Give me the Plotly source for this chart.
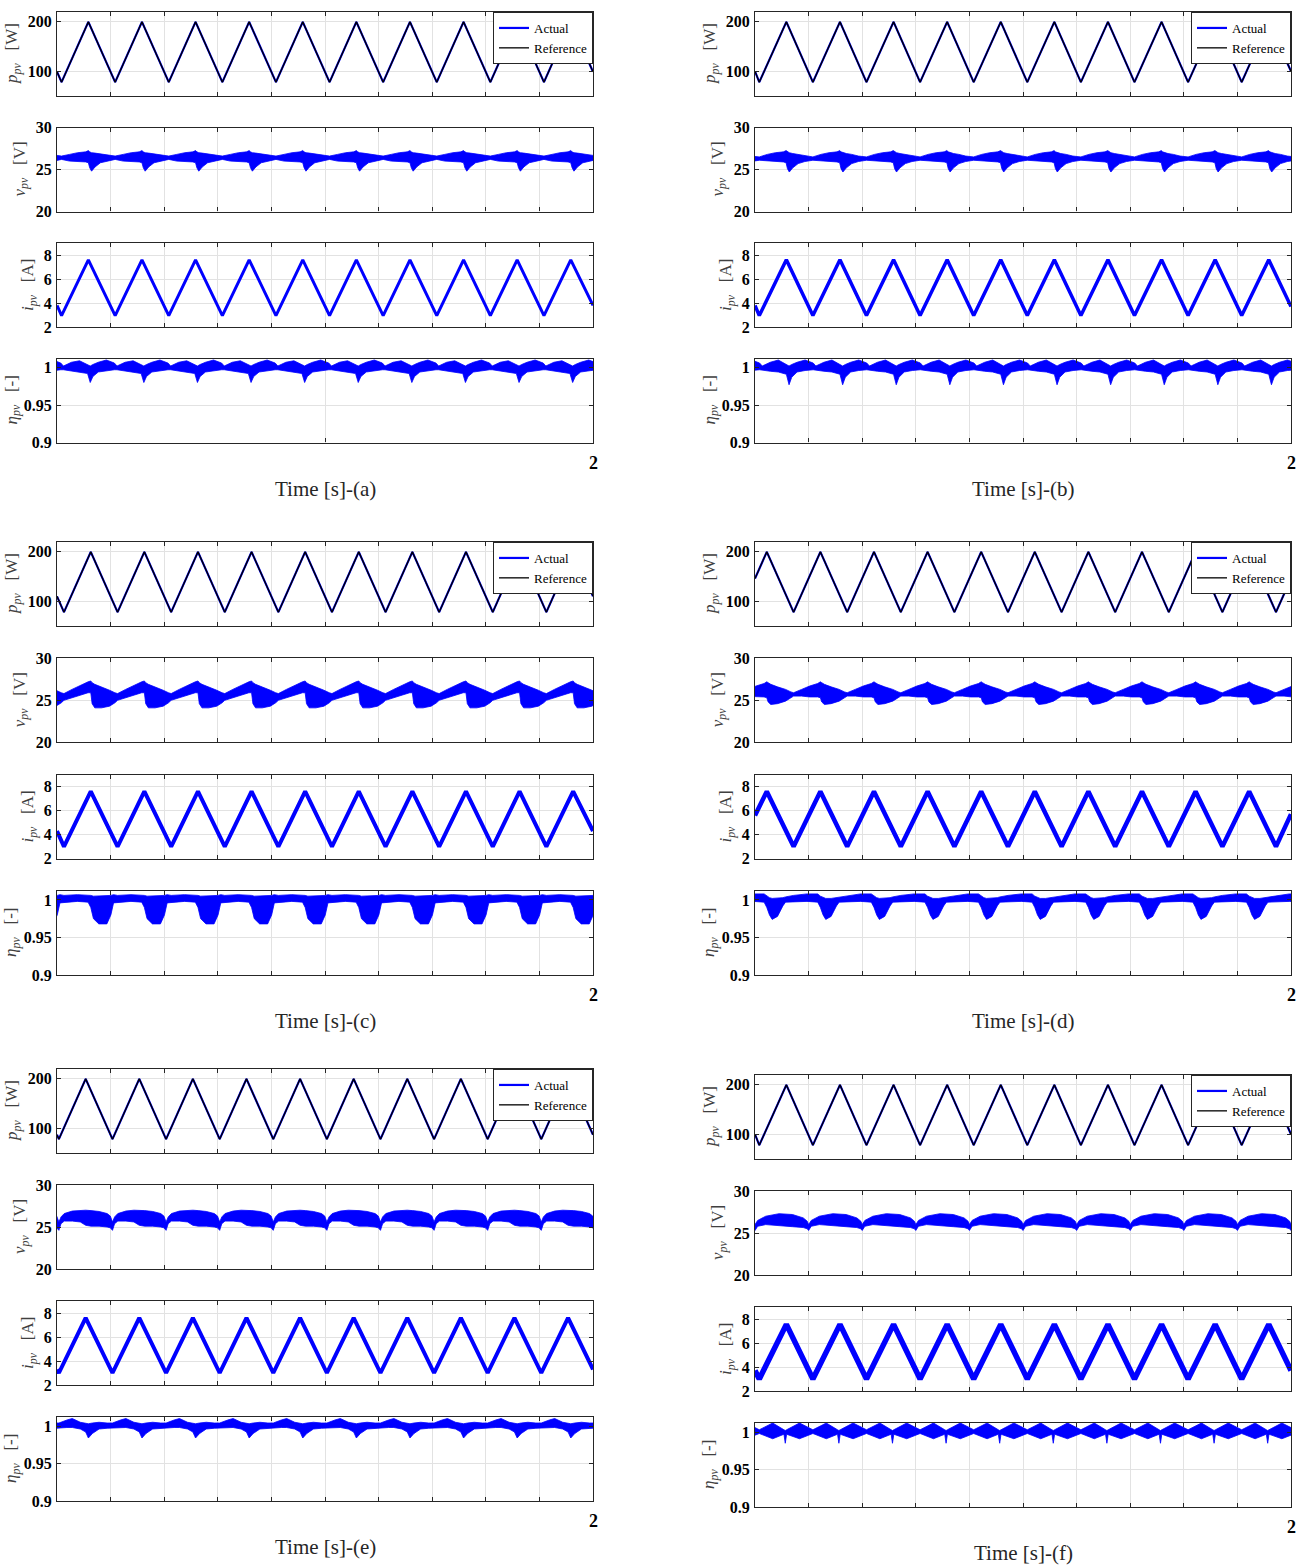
import plotly.graph_objects as go

W, H = 1303, 1568

# ---------------- data ----------------
X_TICKS = [0, 0.2, 0.4, 0.6, 0.8, 1.0, 1.2, 1.4, 1.6, 1.8, 2.0]

# vertex times of triangular power / current profiles [s]
T_A = [0, 0.017, 0.117, 0.217, 0.317, 0.417, 0.517, 0.617, 0.717, 0.817, 0.917,
       1.017, 1.117, 1.217, 1.317, 1.417, 1.517, 1.617, 1.717, 1.817, 1.917, 2.0]
T_B = [0, 0.016, 0.117, 0.216, 0.317, 0.416, 0.517, 0.616, 0.717, 0.816, 0.917,
       1.016, 1.117, 1.216, 1.317, 1.416, 1.517, 1.616, 1.717, 1.816, 1.917, 2.0]
T_C = [0, 0.026, 0.126, 0.226, 0.326, 0.426, 0.526, 0.626, 0.726, 0.826, 0.926,
       1.026, 1.126, 1.226, 1.326, 1.426, 1.526, 1.626, 1.726, 1.826, 1.926, 2.0]
T_D = [0, 0.044, 0.144, 0.244, 0.344, 0.444, 0.544, 0.644, 0.744, 0.844, 0.944,
       1.044, 1.144, 1.244, 1.344, 1.444, 1.544, 1.644, 1.744, 1.844, 1.944, 2.0]
T_E = [0, 0.007, 0.107, 0.207, 0.307, 0.407, 0.507, 0.607, 0.707, 0.807, 0.907,
       1.007, 1.107, 1.207, 1.307, 1.407, 1.507, 1.607, 1.707, 1.807, 1.907, 2.0]
T_F = [0, 0.016, 0.117, 0.216, 0.317, 0.416, 0.517, 0.616, 0.717, 0.816, 0.917,
       1.016, 1.117, 1.216, 1.317, 1.416, 1.517, 1.616, 1.717, 1.816, 1.917, 2.0]

# PV power [W] at those vertices (actual follows the reference)
P_A = [99, 78, 200, 78, 200, 78, 200, 78, 200, 78, 200, 78, 200, 78, 200, 78, 200, 78, 200, 78, 200, 99]
P_B = [100, 78, 200, 78, 200, 78, 200, 78, 200, 78, 200, 78, 200, 78, 200, 78, 200, 78, 200, 78, 200, 100]
P_C = [110, 78, 200, 78, 200, 78, 200, 78, 200, 78, 200, 78, 200, 78, 200, 78, 200, 78, 200, 78, 200, 110]
P_D = [146, 200, 78, 200, 78, 200, 78, 200, 78, 200, 78, 200, 78, 200, 78, 200, 78, 200, 78, 200, 78, 146]
P_E = [87, 78, 200, 78, 200, 78, 200, 78, 200, 78, 200, 78, 200, 78, 200, 78, 200, 78, 200, 78, 200, 87]
P_F = [100, 78, 200, 78, 200, 78, 200, 78, 200, 78, 200, 78, 200, 78, 200, 78, 200, 78, 200, 78, 200, 100]

# PV current [A] at those vertices
I_A = [3.8, 2.95, 7.6, 2.95, 7.6, 2.95, 7.6, 2.95, 7.6, 2.95, 7.6, 2.95, 7.6, 2.95, 7.6, 2.95, 7.6, 2.95, 7.6, 2.95, 7.6, 3.8]
I_B = [3.8, 2.95, 7.6, 2.95, 7.6, 2.95, 7.6, 2.95, 7.6, 2.95, 7.6, 2.95, 7.6, 2.95, 7.6, 2.95, 7.6, 2.95, 7.6, 2.95, 7.6, 3.7]
I_C = [4.3, 3.0, 7.6, 3.0, 7.6, 3.0, 7.6, 3.0, 7.6, 3.0, 7.6, 3.0, 7.6, 3.0, 7.6, 3.0, 7.6, 3.0, 7.6, 3.0, 7.6, 4.3]
I_D = [5.6, 7.6, 3.0, 7.6, 3.0, 7.6, 3.0, 7.6, 3.0, 7.6, 3.0, 7.6, 3.0, 7.6, 3.0, 7.6, 3.0, 7.6, 3.0, 7.6, 3.0, 5.7]
I_E = [3.3, 3.0, 7.6, 3.0, 7.6, 3.0, 7.6, 3.0, 7.6, 3.0, 7.6, 3.0, 7.6, 3.0, 7.6, 3.0, 7.6, 3.0, 7.6, 3.0, 7.6, 3.3]
I_F = [3.7, 3.0, 7.55, 3.0, 7.55, 3.0, 7.55, 3.0, 7.55, 3.0, 7.55, 3.0, 7.55, 3.0, 7.55, 3.0, 7.55, 3.0, 7.55, 3.0, 7.55, 3.7]

PERIOD = 0.2  # s, one power cycle

# PV voltage ripple band over one cycle: phase [s], upper and lower envelope [V]
V_A_TAU = [0.0, 0.03, 0.06, 0.09, 0.1, 0.105, 0.112, 0.125, 0.145, 0.17, 0.2]
V_A_UP = [26.6, 26.8, 27.0, 27.1, 27.25, 27.1, 27.0, 26.95, 26.85, 26.7, 26.6]
V_A_LO = [26.2, 26.0, 25.95, 25.9, 25.8, 25.2, 24.8, 25.3, 25.8, 26.0, 26.2]
V_B_TAU = [0.0, 0.03, 0.06, 0.09, 0.1, 0.105, 0.112, 0.125, 0.145, 0.17, 0.2]
V_B_UP = [26.5, 26.8, 27.0, 27.1, 27.25, 27.1, 27.0, 26.9, 26.8, 26.6, 26.5]
V_B_LO = [26.1, 26.0, 25.95, 25.9, 25.8, 25.1, 24.7, 25.2, 25.7, 25.95, 26.1]
V_C_TAU = [0.0, 0.03, 0.06, 0.09, 0.1, 0.105, 0.115, 0.14, 0.17, 0.19, 0.2]
V_C_UP = [25.8, 26.3, 26.8, 27.2, 27.3, 27.1, 26.9, 26.6, 26.2, 25.9, 25.8]
V_C_LO = [25.0, 25.3, 25.6, 25.9, 25.9, 24.6, 24.1, 24.1, 24.3, 24.7, 25.0]
V_D_TAU = [0.0, 0.03, 0.06, 0.09, 0.1, 0.105, 0.115, 0.14, 0.17, 0.19, 0.2]
V_D_UP = [25.9, 26.3, 26.7, 27.0, 27.2, 27.1, 26.9, 26.6, 26.3, 26.0, 25.9]
V_D_LO = [25.5, 25.5, 25.4, 25.4, 25.3, 24.8, 24.5, 24.6, 24.9, 25.3, 25.5]
V_E_TAU = [0.0, 0.008, 0.02, 0.05, 0.08, 0.1, 0.12, 0.15, 0.18, 0.192, 0.2]
V_E_UP = [25.6, 26.2, 26.6, 26.9, 27.0, 27.0, 26.95, 26.85, 26.6, 26.3, 25.6]
V_E_LO = [24.6, 25.4, 25.7, 25.7, 25.6, 25.2, 25.1, 25.1, 25.0, 24.9, 24.6]
V_F_TAU = [0.0, 0.01, 0.04, 0.09, 0.14, 0.18, 0.195, 0.2]
V_F_UP = [26.0, 26.5, 27.0, 27.3, 27.2, 26.8, 26.4, 26.0]
V_F_LO = [25.3, 25.8, 26.0, 25.9, 25.75, 25.65, 25.5, 25.3]

# efficiency band over one cycle: phase [s], upper and lower envelope [-]
E_A_TAU = [0.0, 0.01, 0.03, 0.06, 0.09, 0.1, 0.13, 0.16, 0.19, 0.2]
E_A_UP = [1.002, 1.004, 1.007, 1.010, 1.006, 1.002, 1.007, 1.009, 1.004, 1.002]
E_A_LO = [0.980, 0.988, 0.994, 0.996, 0.997, 0.997, 0.995, 0.994, 0.992, 0.980]
E_B_TAU = [0.0, 0.01, 0.03, 0.06, 0.09, 0.1, 0.13, 0.16, 0.19, 0.2]
E_B_UP = [1.002, 1.004, 1.007, 1.010, 1.006, 1.002, 1.007, 1.010, 1.004, 1.002]
E_B_LO = [0.977, 0.987, 0.994, 0.996, 0.997, 0.997, 0.995, 0.994, 0.991, 0.977]
E_C_TAU = [0.0, 0.05, 0.09, 0.1, 0.11, 0.13, 0.16, 0.175, 0.185, 0.2]
E_C_UP = [1.006, 1.007, 1.007, 1.006, 1.005, 1.005, 1.005, 1.006, 1.007, 1.006]
E_C_LO = [0.997, 0.998, 0.997, 0.990, 0.975, 0.968, 0.968, 0.980, 0.996, 0.997]
E_D_TAU = [0.0, 0.05, 0.09, 0.1, 0.11, 0.12, 0.14, 0.16, 0.17, 0.2]
E_D_UP = [1.006, 1.008, 1.008, 1.005, 1.003, 1.002, 1.002, 1.003, 1.004, 1.006]
E_D_LO = [0.998, 0.998, 0.997, 0.990, 0.980, 0.974, 0.978, 0.992, 0.997, 0.998]
E_E_TAU = [0.0, 0.03, 0.05, 0.08, 0.1, 0.11, 0.125, 0.15, 0.18, 0.2]
E_E_UP = [1.004, 1.008, 1.010, 1.005, 1.003, 1.003, 1.004, 1.005, 1.004, 1.004]
E_E_LO = [0.997, 0.998, 0.998, 0.996, 0.992, 0.984, 0.990, 0.996, 0.997, 0.997]
E_F_TAU = [0.0, 0.05, 0.092, 0.097, 0.102, 0.15, 0.2]
E_F_UP = [1.003, 1.012, 1.003, 1.002, 1.003, 1.012, 1.003]
E_F_LO = [0.998, 0.991, 0.997, 0.985, 0.997, 0.991, 0.998]

LABELS = ["(a)", "(b)", "(c)", "(d)", "(e)", "(f)"]
X_END_LABEL = "2"

# ---------------- styling / layout ----------------
BLUE = "#0000ff"
AX = "#262626"
GRID = "#e2e2e2"
SERIF = "Liberation Serif, Times New Roman, serif"

panels = [
    dict(T=T_A, P=P_A, I=I_A, iw=3.0, V=(V_A_TAU, V_A_UP, V_A_LO), v0=0.017,
         E=(E_A_TAU, E_A_UP, E_A_LO), e0=0.124, full_eta_grid=False, col=0, top=12, step=115.5),
    dict(T=T_B, P=P_B, I=I_B, iw=3.5, V=(V_B_TAU, V_B_UP, V_B_LO), v0=0.016,
         E=(E_B_TAU, E_B_UP, E_B_LO), e0=0.127, full_eta_grid=True, col=1, top=12, step=115.5),
    dict(T=T_C, P=P_C, I=I_C, iw=4.0, V=(V_C_TAU, V_C_UP, V_C_LO), v0=0.026,
         E=(E_C_TAU, E_C_UP, E_C_LO), e0=0.026, full_eta_grid=True, col=0, top=542, step=116.3),
    dict(T=T_D, P=P_D, I=I_D, iw=4.5, V=(V_D_TAU, V_D_UP, V_D_LO), v0=0.144,
         E=(E_D_TAU, E_D_UP, E_D_LO), e0=0.144, full_eta_grid=True, col=1, top=542, step=116.3),
    dict(T=T_E, P=P_E, I=I_E, iw=4.0, V=(V_E_TAU, V_E_UP, V_E_LO), v0=0.007,
         E=(E_E_TAU, E_E_UP, E_E_LO), e0=0.007, full_eta_grid=True, col=0, top=1069, step=116.0),
    dict(T=T_F, P=P_F, I=I_F, iw=5.5, V=(V_F_TAU, V_F_UP, V_F_LO), v0=0.0,
         E=(E_F_TAU, E_F_UP, E_F_LO), e0=0.016, full_eta_grid=True, col=1, top=1075, step=116.0),
]

# per row: y range, ticks, axis title and title centre offset (px left of the plot edge)
ROWS = [
    dict(rng=[50, 220], ticks=[100, 200], txt=["100", "200"], tdx=44,
         title="<i>p</i><sub><i>pv</i></sub>&nbsp;&nbsp;&nbsp;[W]"),
    dict(rng=[20, 30], ticks=[20, 25, 30], txt=["20", "25", "30"], tdx=36,
         title="<i>v</i><sub><i>pv</i></sub>&nbsp;&nbsp;&nbsp;[V]"),
    dict(rng=[2, 9], ticks=[2, 4, 6, 8], txt=["2", "4", "6", "8"], tdx=28,
         title="<i>i</i><sub><i>pv</i></sub>&nbsp;&nbsp;&nbsp;[A]"),
    dict(rng=[0.9, 1.012], ticks=[0.9, 0.95, 1.0], txt=["0.9", "0.95", "1"], tdx=45,
         title="<i>η</i><sub><i>pv</i></sub>&nbsp;&nbsp;&nbsp;[-]"),
]

COL_X = [(57, 593), (755, 1291)]
SUB_H = 84


def band(tau, up, lo, t0):
    """Repeat one cycle of an envelope over the whole record -> closed polygon."""
    xs, ups, los = [], [], []
    for k in range(-1, 12):
        base = t0 + k * PERIOD
        for j in range(len(tau) - 1):
            xs.append(base + tau[j])
            ups.append(up[j])
            los.append(lo[j])
    return xs + xs[::-1], ups + los[::-1]


fig = go.Figure()
annotations = []
layout_axes = {}

for pi, pn in enumerate(panels):
    x0, x1 = COL_X[pn["col"]]
    legend_name = "legend" if pi == 0 else f"legend{pi + 1}"
    for r in range(4):
        n = pi * 4 + r + 1
        xa = "x" if n == 1 else f"x{n}"
        ya = "y" if n == 1 else f"y{n}"
        top = pn["top"] + r * pn["step"]
        bot = top + SUB_H
        ydom = [1 - bot / H, 1 - top / H]
        xdom = [x0 / W, x1 / W]

        if r == 0:
            fig.add_trace(go.Scatter(x=pn["T"], y=pn["P"], mode="lines", name="Actual",
                                     line=dict(color=BLUE, width=2.2), xaxis=xa, yaxis=ya,
                                     legend=legend_name, showlegend=True))
            fig.add_trace(go.Scatter(x=pn["T"], y=pn["P"], mode="lines", name="Reference",
                                     line=dict(color="black", width=1.3), xaxis=xa, yaxis=ya,
                                     legend=legend_name, showlegend=True))
        elif r == 1:
            bx, by = band(*pn["V"], pn["v0"])
            fig.add_trace(go.Scatter(x=bx, y=by, mode="lines", fill="toself", fillcolor=BLUE,
                                     line=dict(color=BLUE, width=0.8), xaxis=xa, yaxis=ya,
                                     showlegend=False, hoverinfo="skip"))
        elif r == 2:
            fig.add_trace(go.Scatter(x=pn["T"], y=pn["I"], mode="lines",
                                     line=dict(color=BLUE, width=pn["iw"]), xaxis=xa, yaxis=ya,
                                     showlegend=False))
        else:
            bx, by = band(*pn["E"], pn["e0"])
            fig.add_trace(go.Scatter(x=bx, y=by, mode="lines", fill="toself", fillcolor=BLUE,
                                     line=dict(color=BLUE, width=0.8), xaxis=xa, yaxis=ya,
                                     showlegend=False, hoverinfo="skip"))

        tv = [0, 1.0, 2.0] if (r == 3 and not pn["full_eta_grid"]) else X_TICKS

        xkey = "xaxis" if n == 1 else f"xaxis{n}"
        ykey = "yaxis" if n == 1 else f"yaxis{n}"
        layout_axes[xkey] = dict(
            domain=xdom, anchor=ya, range=[0, 2], tickvals=tv,
            showticklabels=False, ticks="inside", ticklen=4, tickcolor=AX,
            showline=True, linecolor=AX, linewidth=1.2, mirror="allticks",
            showgrid=True, gridcolor=GRID, gridwidth=1, zeroline=False,
            automargin=False, fixedrange=True,
        )
        rw = ROWS[r]
        layout_axes[ykey] = dict(
            domain=ydom, anchor=xa, range=rw["rng"], tickvals=rw["ticks"], ticktext=rw["txt"],
            ticks="inside", ticklen=4, tickcolor=AX,
            showline=True, linecolor=AX, linewidth=1.2, mirror="allticks",
            showgrid=True, gridcolor=GRID, gridwidth=1, zeroline=False,
            tickfont=dict(family=SERIF, size=16, color="black", weight="bold"),
            ticklabelstandoff=1, automargin=False, fixedrange=True,
        )
        # rotated y-axis title
        annotations.append(dict(
            text=rw["title"], x=(x0 - rw["tdx"]) / W, y=1 - (top + SUB_H / 2) / H,
            xref="paper", yref="paper", xanchor="center", yanchor="middle",
            textangle=-90, showarrow=False, borderpad=0,
            font=dict(family=SERIF, size=17, color="#404040"),
        ))

    # legend in the power subplot
    layout_axes[legend_name] = dict(
        x=x1 / W, xanchor="right", y=1 - pn["top"] / H, yanchor="top",
        bgcolor="white", bordercolor=AX, borderwidth=1,
        font=dict(family=SERIF, size=13, color="black"),
        itemwidth=30, tracegroupgap=0, itemclick=False, itemdoubleclick=False,
    )

    eta_bot = pn["top"] + 3 * pn["step"] + SUB_H
    # end-of-axis time tick label
    annotations.append(dict(
        text=X_END_LABEL, x=x1 / W, y=1 - (eta_bot + 20) / H,
        xref="paper", yref="paper", xanchor="center", yanchor="middle", showarrow=False,
        font=dict(family=SERIF, size=18, color="black", weight="bold"),
    ))
    # x-axis caption below the efficiency subplot
    annotations.append(dict(
        text=f"Time [s]-{LABELS[pi]}", x=(x0 + x1) / 2 / W, y=1 - (eta_bot + 46) / H,
        xref="paper", yref="paper", xanchor="center", yanchor="middle", showarrow=False,
        font=dict(family=SERIF, size=21, color="#262626"),
    ))

fig.update_layout(
    width=W, height=H, margin=dict(l=0, r=0, t=0, b=0, pad=0, autoexpand=False),
    paper_bgcolor="white", plot_bgcolor="white",
    annotations=annotations, **layout_axes,
)

fig.write_html("out.html", config={"displayModeBar": False},
               post_script="document.body.style.margin='0px';")
